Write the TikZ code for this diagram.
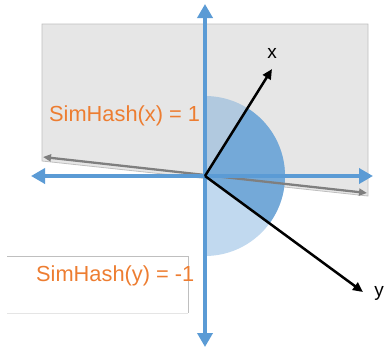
\documentclass[tikz,border=0pt]{standalone}
\usepackage{fontspec}
\setmainfont{Liberation Sans}
\usetikzlibrary{arrows.meta}
\definecolor{axisblue}{HTML}{5B9BD5}
\definecolor{wedgeblue}{HTML}{74A9D8}
\definecolor{bggray}{HTML}{E6E6E6}
\definecolor{bgborder}{HTML}{BFBFBF}
\definecolor{arrgray}{HTML}{7F7F7F}
\definecolor{hashorange}{HTML}{ED7D31}
\tikzset{
  axis/.style={draw=axisblue, line width=4pt,
    {Triangle[length=14pt,width=15pt]}-{Triangle[length=14pt,width=15pt]}},
  vec/.style={draw=black, line width=2.5pt, -{Triangle[length=10pt,width=9pt]}},
  plane/.style={draw=arrgray, line width=2.3pt,
    {Triangle[length=8pt,width=7pt]}-{Triangle[length=8pt,width=7pt]}},
  hashlabel/.style={text=hashorange, font=\fontsize{21.8}{24}\selectfont, inner sep=0pt, anchor=base west},
  veclabel/.style={font=\fontsize{19}{22}\selectfont, inner sep=0pt}
}
\begin{document}
\begin{tikzpicture}[x=1pt,y=-1pt]
\useasboundingbox (0,0) rectangle (385,348);
% gray half-space
\filldraw[fill=bggray, draw=bgborder, line width=0.8pt]
  (42,24) -- (368,24) -- (368,196) -- (42,161) -- cycle;
% white box
\draw[bgborder, line width=0.8pt] (7,256) -- (188,256) -- (188,313);
\draw[bgborder!40, line width=0.8pt] (7,313) -- (188,313);
\coordinate (O) at (205,176);
% semicircle (y axis points down, so angles are mirrored)
\fill[axisblue, opacity=0.38] (O) ++(0,-80) arc[start angle=-90, end angle=90, radius=80] -- cycle;
\fill[wedgeblue] (O) -- ++(-58.6:80) arc[start angle=-58.6, end angle=36.5, radius=80] -- cycle;
% hyperplane
\coordinate (PL) at (43,157);
\coordinate (PR) at (367,193);
\draw[plane] (PL) -- (PR);
% axes
\coordinate (AT) at (205,4);
\coordinate (AB) at (205,347);
\coordinate (AL) at (31,176);
\coordinate (AR) at (373,176);
\draw[axis] (AB) -- (AT);
\draw[axis] (AL) -- (AR);
% vectors
\node[veclabel] (xl) at (272,53) {x};
\node[veclabel] (yl) at (379,293) {y};
\coordinate (XT) at (272,69);
\coordinate (YT) at (363,292);
\draw[vec] (O) -- (XT);
\draw[vec] (O) -- (YT);
% labels
\node[hashlabel] (hx) at (49,121) {SimHash(x) = 1};
\node[hashlabel] (hy) at (36,281) {SimHash(y) = -1};
\end{tikzpicture}
\end{document}
